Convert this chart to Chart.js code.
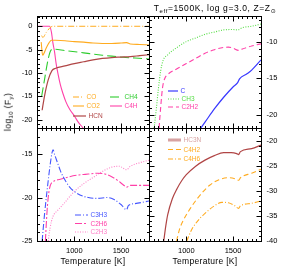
<!DOCTYPE html>
<html>
<head>
<meta charset="utf-8">
<script src="https://cdn.jsdelivr.net/npm/chart.js@4.4.1/dist/chart.umd.min.js"></script>
<style>
  body { margin: 0; background: #fff; }
  #wrap { position: relative; width: 284px; height: 271px; font-family: "Liberation Sans", Arial, sans-serif; color: #000; }
  canvas { position: absolute; left: 0; top: 0; }
  .txt { position: absolute; white-space: nowrap; line-height: 1; }
  .txt sub { font-size: 70%; vertical-align: -2px; line-height: 0; }
  .sun { font-family: "DejaVu Sans", sans-serif; }
  #title { left: 215px; top: 4px; font-size: 8.5px; letter-spacing: 0.6px; transform: translateX(-50%); }
  #ylab { left: 8px; top: 112px; font-size: 8.5px; letter-spacing: 0.4px; transform: translate(-50%, -50%) rotate(-90deg); }
  .xlab { top: 257px; font-size: 8.5px; letter-spacing: 0.3px; transform: translateX(-50%); }
</style>
</head>
<body>
<div id="wrap">
  <canvas id="tl" width="284" height="271"></canvas>
  <canvas id="tr" width="284" height="271"></canvas>
  <canvas id="bl" width="284" height="271"></canvas>
  <canvas id="br" width="284" height="271"></canvas>
  <div class="txt" id="title">T<sub>eff</sub>=1500K, log g=3.0, Z=Z<sub class="sun">&#x2299;</sub></div>
  <div class="txt" id="ylab">log<sub>10</sub> (F<sub>y</sub>)</div>
  <div class="txt xlab" style="left:93px">Temperature [K]</div>
  <div class="txt xlab" style="left:205px">Temperature [K]</div>
</div>
<script>
// temperatures [K] and log10 abundances
const coT = [650, 662, 700, 740, 770, 1800];
const coF = [-2.0, -2.4, -1.3, -0.3, 0, 0];
const co2T = [645, 660, 675, 700, 730, 755, 800, 900, 1000, 1100, 1200, 1300, 1400, 1500, 1560, 1600, 1700, 1800];
const co2F = [-3.4, -6.2, -5.8, -4.6, -3.5, -3.0, -3.0, -3.1, -3.3, -3.4, -3.6, -3.7, -3.7, -3.6, -3.5, -3.8, -3.9, -4.0];
const hcnT = [655, 680, 720, 760, 800, 900, 1000, 1100, 1200, 1300, 1400, 1500, 1600, 1700, 1800];
const hcnF = [-18, -15, -11.5, -9.5, -9.0, -8.5, -8.0, -7.6, -7.2, -6.9, -6.7, -6.6, -6.5, -6.3, -6.1];
const ch4T = [650, 680, 710, 740, 770, 900, 1100, 1300, 1450, 1550, 1650, 1800];
const ch4F = [-15, -11.5, -8, -5.5, -4.9, -5.2, -5.7, -6.2, -6.5, -6.7, -6.8, -7.0];
const c4hT = [600, 735, 755, 770, 788, 805, 824, 850, 878, 910, 950, 1000, 1040, 1093, 1110];
const c4hF = [0, 0, -1.3, -3.5, -5.5, -8, -10.1, -12.5, -14.4, -16.2, -17.8, -19.2, -20.5, -21.8, -22.3];

const cT = [1155, 1200, 1300, 1400, 1500, 1550, 1570, 1650, 1700, 1800];
const cF = [-21.8, -21.0, -19.2, -17.6, -16.2, -15.6, -15.1, -14.4, -13.9, -12.5];
const ch3T = [655, 680, 700, 725, 750, 800, 900, 1000, 1100, 1200, 1300, 1400, 1500, 1550, 1600, 1700, 1800];
const ch3F = [-21.8, -19, -16.5, -14, -12.6, -11.8, -10.8, -10.0, -9.5, -9.0, -8.7, -8.4, -8.35, -8.4, -8.1, -7.9, -7.6];
const c2h2T = [708, 725, 745, 770, 800, 900, 1000, 1100, 1200, 1300, 1400, 1450, 1500, 1560, 1600, 1700, 1800];
const c2h2F = [-21.8, -19, -16.3, -15, -14.5, -13.7, -13.0, -12.3, -11.6, -11.1, -10.8, -10.75, -10.9, -11.2, -11.0, -10.6, -10.3];

const c3h3T = [655, 680, 710, 740, 760, 772, 790, 820, 850, 880, 950, 1000, 1060, 1150, 1250, 1350, 1420, 1500, 1560, 1580, 1650, 1800];
const c3h3F = [-25, -22, -19, -16.3, -14.9, -14.5, -15.1, -16.0, -16.9, -17.6, -18.8, -19.3, -19.7, -20.0, -20.1, -20.0, -20.2, -20.8, -21.4, -20.9, -20.7, -20.4];
const c2h6T = [690, 705, 720, 740, 770, 850, 950, 1050, 1150, 1250, 1330, 1400, 1460, 1520, 1560, 1600, 1800];
const c2h6F = [-25, -22, -20, -18.7, -18.2, -17.9, -17.6, -17.4, -17.3, -17.2, -17.3, -17.6, -18.0, -18.5, -18.8, -18.6, -18.6];
const c2h3T = [720, 740, 770, 820, 880, 950, 1000, 1100, 1200, 1300, 1400, 1480, 1560, 1600, 1700, 1800];
const c2h3F = [-25, -23.5, -22.2, -21.5, -20.8, -19.9, -19.3, -18.4, -17.7, -17.0, -16.5, -16.4, -16.8, -16.4, -16.0, -15.7];

const hc3nT = [758, 780, 800, 850, 900, 950, 1000, 1100, 1200, 1300, 1400, 1480, 1540, 1560, 1580, 1700, 1800];
const hc3nF = [-40, -37, -34.8, -31.6, -29.6, -28, -26.8, -25.1, -23.9, -23.0, -22.4, -22.4, -22.6, -22.8, -22.2, -21.6, -20.9];
const c4h2T = [895, 930, 970, 1050, 1150, 1250, 1350, 1450, 1520, 1560, 1580, 1700, 1800];
const c4h2F = [-40, -37.5, -35.8, -33.3, -30.8, -28.9, -27.8, -27.4, -27.6, -27.9, -27.4, -26.5, -25.7];
const c4h6T = [1005, 1050, 1100, 1200, 1300, 1380, 1450, 1520, 1560, 1580, 1700, 1800];
const c4h6F = [-40, -38, -36.5, -34.5, -33.0, -32.3, -32.4, -33.0, -33.5, -33.0, -32.5, -32.0];

const xTicks = [1000, 1500];

const ORANGE = '#ffab1f', BROWN = '#b04545', PINK = '#ff40a8';

function ser(label, T, F, color, dash, width) {
    return {
        label: label,
        data: T.map((t, i) => ({x: t, y: F[i]})),
        borderColor: color,
        borderDash: dash || [],
        borderWidth: width || 1,
        pointRadius: 0,
        cubicInterpolationMode: 'monotone',
        clip: 0,
        fill: false
    };
}

// border, inward ticks and tick labels of one panel
const frame = {
    id: 'frame',
    afterDatasetsDraw(chart, args, o) {
        const {ctx, chartArea: a, scales: {x, y}} = chart;
        const L = Math.round(a.left) + 0.5, R = Math.round(a.right) + 0.5;
        const T = Math.round(a.top) + 0.5, B = Math.round(a.bottom) + 0.5;
        ctx.save();
        ctx.strokeStyle = '#000';
        ctx.lineWidth = 1;
        ctx.strokeRect(L, T, R - L, B - T);
        ctx.beginPath();
        for (let t = 600; t <= 1800; t += 50) {
            const px = Math.round(x.getPixelForValue(t)) + 0.5;
            const len = t % 500 === 0 ? 5 : 2.5;
            ctx.moveTo(px, T); ctx.lineTo(px, T + len);
            ctx.moveTo(px, B); ctx.lineTo(px, B - len);
        }
        for (let v = Math.ceil(y.min); v <= y.max; v++) {
            const py = Math.round(y.getPixelForValue(v)) + 0.5;
            const len = v % 5 === 0 ? 5 : 2.5;
            ctx.moveTo(L, py); ctx.lineTo(L + len, py);
            ctx.moveTo(R, py); ctx.lineTo(R - len, py);
        }
        ctx.stroke();

        ctx.fillStyle = '#000';
        ctx.font = '7.5px "Liberation Sans", Arial, sans-serif';
        ctx.textBaseline = 'middle';
        o.yLabels.forEach(v => {
            const py = y.getPixelForValue(v);
            if (o.side === 'left') {
                ctx.textAlign = 'right';
                ctx.fillText(String(v), L - 5, py);
            } else {
                ctx.textAlign = 'left';
                ctx.fillText(String(v), R + 5, py);
            }
        });
        if (o.xLabels) {
            ctx.textAlign = 'center';
            xTicks.forEach(t => ctx.fillText(String(t), x.getPixelForValue(t), B + 9));
        }
        ctx.restore();
    }
};

// legend drawn inside the panel
const leg = {
    id: 'leg',
    afterDatasetsDraw(chart, args, o) {
        const ctx = chart.ctx;
        ctx.save();
        ctx.font = '6.5px "Liberation Sans", Arial, sans-serif';
        ctx.textBaseline = 'middle';
        ctx.textAlign = 'left';
        o.items.forEach(it => {
            const ds = chart.data.datasets[it.i];
            ctx.strokeStyle = it.color || ds.borderColor;
            ctx.lineWidth = it.width || ds.borderWidth;
            ctx.setLineDash(ds.borderDash);
            ctx.beginPath();
            ctx.moveTo(it.x, it.y);
            ctx.lineTo(it.x + it.len, it.y);
            ctx.stroke();
            ctx.fillStyle = it.color || ds.borderColor;
            ctx.fillText(ds.label, it.x + it.len + 2.5, it.y + 0.5);
        });
        ctx.restore();
    }
};

function makeChart(id, p, datasets, items) {
    return new Chart(document.getElementById(id), {
        type: 'line',
        data: {datasets: datasets},
        options: {
            responsive: false,
            animation: false,
            events: [],
            layout: {padding: {left: p.l, top: p.t, right: 284 - p.r, bottom: 271 - p.b}},
            scales: {
                x: {type: 'linear', min: 600, max: 1800, display: false},
                y: {type: 'linear', min: p.ymin, max: p.ymax, display: false}
            },
            plugins: {
                legend: {display: false},
                tooltip: {enabled: false},
                frame: {side: p.side, yLabels: p.yLabels, xLabels: p.xLabels},
                leg: {items: items}
            }
        },
        plugins: [frame, leg]
    });
}

makeChart('tl', {l: 37, r: 149, t: 16, b: 128, ymin: -21.8, ymax: 2.2, side: 'left', yLabels: [0, -5, -10, -15, -20], xLabels: false}, [
    ser('CO', coT, coF, ORANGE, [6, 2, 1, 2]),
    ser('CO2', co2T, co2F, ORANGE, [], 1.1),
    ser('HCN', hcnT, hcnF, BROWN, [], 1.2),
    ser('CH4', ch4T, ch4F, '#2ecc2e', [9, 4], 1.1),
    ser('C4H', c4hT, c4hF, PINK, [], 1.1)
], [
    {i: 0, x: 73, y: 97, len: 11},
    {i: 1, x: 73, y: 106, len: 11},
    {i: 2, x: 73, y: 116, len: 13},
    {i: 3, x: 110, y: 97, len: 12},
    {i: 4, x: 110, y: 106, len: 12}
]);

makeChart('tr', {l: 149, r: 261, t: 16, b: 128, ymin: -21.8, ymax: -6.5, side: 'right', yLabels: [-10, -15, -20], xLabels: false}, [
    ser('C', cT, cF, '#3838ff', [], 1.2),
    ser('CH3', ch3T, ch3F, '#55dd44', [1, 1.5], 1.1),
    ser('C2H2', c2h2T, c2h2F, PINK, [5, 3], 1.1)
], [
    {i: 0, x: 168, y: 91, len: 10},
    {i: 1, x: 168, y: 99, len: 11},
    {i: 2, x: 168, y: 107, len: 11}
]);

makeChart('bl', {l: 37, r: 149, t: 128, b: 241, ymin: -25, ymax: -12, side: 'left', yLabels: [-15, -20, -25], xLabels: true}, [
    ser('C3H3', c3h3T, c3h3F, '#4455ff', [6, 2, 1, 2], 1.1),
    ser('C2H6', c2h6T, c2h6F, PINK, [7, 2, 2, 2], 1.1),
    ser('C2H3', c2h3T, c2h3F, '#ff80c8', [1, 1.5], 1.1)
], [
    {i: 0, x: 75, y: 215, len: 13},
    {i: 1, x: 75, y: 223.5, len: 13},
    {i: 2, x: 75, y: 232, len: 13}
]);

makeChart('br', {l: 149, r: 261, t: 128, b: 241, ymin: -40, ymax: -17.5, side: 'right', yLabels: [-20, -25, -30, -35, -40], xLabels: true}, [
    ser('HC3N', hc3nT, hc3nF, BROWN, [], 1.2),
    ser('C4H2', c4h2T, c4h2F, ORANGE, [5, 3], 1.1),
    ser('C4H6', c4h6T, c4h6F, ORANGE, [5, 2, 1, 2], 1.1)
], [
    {i: 0, x: 168, y: 140, len: 13, width: 3, color: 'rgba(176,69,69,0.5)'},
    {i: 1, x: 168, y: 149.5, len: 13},
    {i: 2, x: 168, y: 159, len: 13}
]);
</script>
</body>
</html>
